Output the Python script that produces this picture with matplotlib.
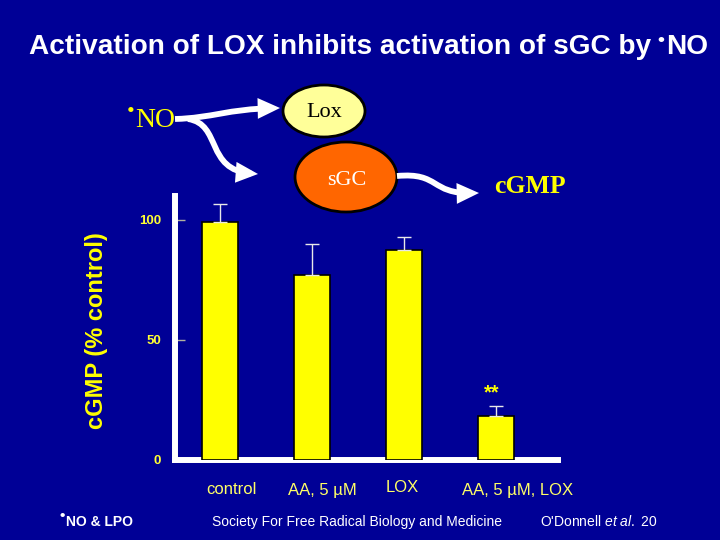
import matplotlib
matplotlib.use("Agg")
import matplotlib.pyplot as plt
from matplotlib.patches import Ellipse, FancyArrowPatch
from matplotlib.path import Path

plt.rcParams['font.family'] = ['Liberation Sans', 'DejaVu Sans']
plt.rcParams['mathtext.fontset'] = 'custom'
plt.rcParams['mathtext.rm'] = 'Liberation Sans'
plt.rcParams['mathtext.it'] = 'Liberation Sans:italic'

# data
groups = ['control', 'AA, 5 µM', 'LOX', 'AA, 5 µM, LOX']
cgmp = [99, 77, 87.5, 18.5]
cgmp_err = [7.5, 13, 5.5, 4]
yticks = [0, 50, 100]

bg = '#000096'
yellow = '#ffff00'

fig = plt.figure(figsize=(7.2, 5.4), dpi=100, facecolor=bg)

# bar chart
ax = fig.add_axes([175 / 720, 80 / 540, 383 / 720, 264 / 540])
ax.set_facecolor(bg)
x = list(range(len(groups)))
ax.bar(x, cgmp, width=0.4, color=yellow, edgecolor='black', linewidth=1.2,
       yerr=[[0] * len(cgmp), cgmp_err],
       error_kw=dict(ecolor='#e8e8e8', elinewidth=1, capsize=5, capthick=1),
       zorder=3)
ax.text(2.95, 28, '**', color=yellow, fontsize=14.5, fontweight='bold',
        ha='center', va='center')
ax.set_xlim(-0.489, 3.674)
ax.set_ylim(0, 110)
ax.set_yticks(yticks)
ax.set_xticks([])
ax.tick_params(axis='y', direction='in', length=7, width=1, color='#b0b0a0',
               labelcolor='#ffff33', labelsize=9.5, pad=10)
for lbl in ax.get_yticklabels():
    lbl.set_fontweight('bold')
for s in ['top', 'right']:
    ax.spines[s].set_visible(False)
ax.spines['left'].set_color('white')
ax.spines['left'].set_linewidth(4.3)
ax.spines['bottom'].set_color('white')
ax.spines['bottom'].set_linewidth(4.3)

# category labels sit a bit off the bar centres on the slide
label_x = [0.12, 1.11, 1.98, 3.23]
label_y = [490, 490, 487, 490]

# overlay in pixel coordinates for the slide furniture
ov = fig.add_axes([0, 0, 1, 1])
ov.set_xlim(0, 720)
ov.set_ylim(540, 0)
ov.axis('off')

for lx, ly, g in zip(label_x, label_y, groups):
    ov.text(220 + lx * 92, ly, g, color='#ffff66', fontsize=12,
            ha='center', va='center')

ov.text(96.5, 331, 'cGMP (% control)', color=yellow, fontsize=17,
        fontweight='bold', rotation=90, ha='center', va='center')

# title
ov.text(651, 54, 'Activation of LOX inhibits activation of sGC by',
        color='white', fontsize=20.2, fontweight='bold', ha='right', va='baseline')
ov.text(661, 41, '•', color='white', fontsize=14, fontweight='bold',
        ha='center', va='center')
ov.text(666, 54, 'NO', color='white', fontsize=20.2, fontweight='bold',
        ha='left', va='baseline')

# footer
ov.text(62, 516, '•', color='white', fontsize=11, fontweight='bold',
        ha='center', va='center')
ov.text(66, 526, 'NO & LPO', color='white', fontsize=10, fontweight='bold',
        ha='left', va='baseline')
ov.text(357.5, 526, 'Society For Free Radical Biology and Medicine',
        color='white', fontsize=10, ha='center', va='baseline')
ov.text(540, 526, r"O'Donnell $\mathit{et\ al.}$ 20", color='white',
        fontsize=10, ha='left', va='baseline')

# pathway diagram
ov.add_patch(Ellipse((324, 111), 82, 52, facecolor='#ffff99',
                     edgecolor='black', linewidth=2))
ov.add_patch(Ellipse((346, 177), 102, 70, facecolor='#ff6600',
                     edgecolor='black', linewidth=2))
ov.text(324, 117, 'Lox', family='Liberation Serif', fontsize=16,
        color='black', ha='center', va='baseline')
ov.text(347, 185, 'sGC', family='Liberation Serif', fontsize=16,
        color='white', ha='center', va='baseline')
ov.text(530, 193, 'cGMP', family='Liberation Serif', fontsize=18.5,
        fontweight='bold', color=yellow, ha='center', va='baseline')
ov.text(131, 113, '•', family='Liberation Serif', fontsize=16,
        color=yellow, ha='center', va='center')
ov.text(135, 127, 'NO', family='Liberation Serif', fontsize=20,
        color=yellow, ha='left', va='baseline')

curves = [
    [(175, 119), (212, 118), (228, 109), (280, 108)],
    [(188, 119), (222, 124), (205, 170), (258, 174)],
    [(397, 176), (440, 172), (430, 194), (479, 193)],
]
codes = [Path.MOVETO, Path.CURVE4, Path.CURVE4, Path.CURVE4]
for pts in curves:
    arr = FancyArrowPatch(path=Path(pts, codes),
                          arrowstyle='-|>,head_length=0.9,head_width=0.42',
                          mutation_scale=10, linewidth=4.2, color='white',
                          joinstyle='miter', capstyle='butt',
                          shrinkA=0, shrinkB=0, transform=ov.transData)
    ov.add_patch(arr)

fig.savefig('out.png', dpi=100, facecolor=bg)
